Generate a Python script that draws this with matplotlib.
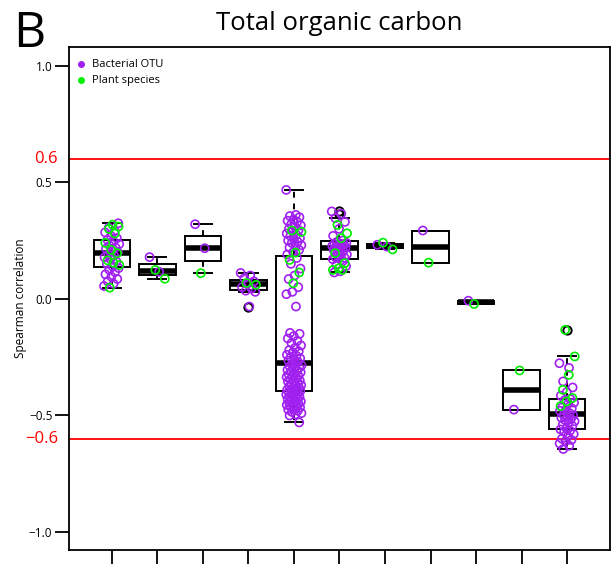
import numpy as np
import matplotlib
matplotlib.use("Agg")
import matplotlib.pyplot as plt
from matplotlib.lines import Line2D

plt.rcParams['font.family'] = ['Open Sans', 'DejaVu Sans']

# Spearman correlations with total organic carbon, one group per box
bact = [
    [0.055, 0.065, 0.075, 0.085, 0.095, 0.105, 0.115, 0.125, 0.132, 0.138,
     0.15, 0.16, 0.17, 0.178, 0.185, 0.19, 0.20, 0.205, 0.215, 0.22, 0.228,
     0.235, 0.247, 0.253, 0.26, 0.27, 0.285, 0.29, 0.305, 0.324],
    [0.179, 0.116],
    [0.32, 0.217],
    [0.111, 0.10, 0.089, 0.075, 0.067, 0.05, 0.044, 0.035, 0.03, -0.033],
    [0.467, 0.36, 0.355, 0.35, 0.34, 0.335, 0.33, 0.32, 0.315, 0.31, 0.30,
     0.295, 0.29, 0.28, 0.275, 0.27, 0.26, 0.255, 0.25, 0.245, 0.24, 0.23,
     0.225, 0.22, 0.21, 0.20, 0.19,
     0.175, 0.15, 0.13, 0.10, 0.085, 0.05, 0.03, 0.02, -0.033, -0.146, -0.15,
     -0.16, -0.17, -0.18, -0.19, -0.20, -0.21, -0.22, -0.225, -0.23, -0.24,
     -0.245, -0.25, -0.255, -0.26, -0.265, -0.27,
     -0.28, -0.285, -0.29, -0.29, -0.295, -0.30, -0.305, -0.31, -0.31, -0.315,
     -0.32, -0.325, -0.33, -0.33, -0.335, -0.34, -0.345, -0.35, -0.35, -0.355,
     -0.36, -0.365, -0.37, -0.37, -0.375, -0.38, -0.385, -0.39, -0.39, -0.392,
     -0.395, -0.40, -0.40, -0.405, -0.41, -0.41, -0.415, -0.42, -0.42, -0.425,
     -0.43, -0.43, -0.435, -0.44, -0.44, -0.445, -0.45, -0.45, -0.455, -0.46,
     -0.46, -0.465, -0.47, -0.475, -0.48, -0.485, -0.49, -0.495, -0.50, -0.53],
    [0.375, 0.365, 0.346, 0.33, 0.30, 0.27, 0.25, 0.244, 0.24, 0.237, 0.235,
     0.232, 0.23, 0.227, 0.225, 0.222, 0.219, 0.215, 0.21, 0.205, 0.20, 0.19,
     0.185, 0.18, 0.176, 0.174, 0.17, 0.16, 0.145, 0.14, 0.118, 0.113],
    [0.232, 0.224],
    [0.293],
    [-0.008],
    [-0.475],
    [-0.276, -0.296, -0.354, -0.38, -0.40, -0.415, -0.43, -0.435, -0.445,
     -0.45, -0.465, -0.47, -0.475, -0.48, -0.49, -0.498, -0.50, -0.505, -0.51,
     -0.515, -0.52, -0.525, -0.53, -0.54, -0.545, -0.555, -0.56, -0.565, -0.57,
     -0.58, -0.59, -0.60, -0.605, -0.61, -0.62, -0.63, -0.644],
]
plant = [
    [0.048, 0.145, 0.155, 0.165, 0.196, 0.21, 0.24, 0.28, 0.30, 0.31, 0.318],
    [0.124, 0.086],
    [0.11],
    [0.068, 0.06],
    [0.293, 0.287, 0.198, 0.167, 0.113, 0.067],
    [0.317, 0.281, 0.26, 0.196, 0.153, 0.131, 0.124, 0.124],
    [0.241, 0.212],
    [0.155],
    [-0.022],
    [-0.307],
    [-0.133, -0.247, -0.326, -0.39, -0.425, -0.44, -0.46],
]
thresholds = [0.6, -0.6]
yticks = [-1.0, -0.5, 0.0, 0.5, 1.0]
yticklabels = ["\u22121.0", "\u22120.5", "0.0", "0.5", "1.0"]

PURPLE = "#A020F0"
GREEN = "#00EE00"


def r_box_stats(values):
    # same five numbers and 1.5*IQR whiskers as R's boxplot()
    x = np.sort(np.asarray(values, dtype=float))
    n = len(x)
    n4 = np.floor((n + 3) / 2) / 2
    idx = np.array([1, n4, (n + 1) / 2, n + 1 - n4, n]) - 1
    f = 0.5 * (x[np.floor(idx).astype(int)] + x[np.ceil(idx).astype(int)])
    iqr = f[3] - f[1]
    lo, hi = f[1] - 1.5 * iqr, f[3] + 1.5 * iqr
    inside = x[(x >= lo) & (x <= hi)]
    return dict(med=f[2], q1=f[1], q3=f[3], whislo=inside.min(),
                whishi=inside.max(), fliers=x[(x < lo) | (x > hi)])


def jitter(n, amp=0.17, phase=0.0):
    k = np.arange(n)
    return ((k * 0.618034 + phase) % 1.0 - 0.5) * 2 * amp


fig = plt.figure(figsize=(6.12, 5.64), dpi=100)
ax = fig.add_axes([0.1127, 0.0248, 0.8840, 0.8919])

positions = np.arange(1, len(bact) + 1)
stats = [r_box_stats(b + p) for b, p in zip(bact, plant)]

for y in thresholds:
    ax.axhline(y, color="red", lw=1.3, zorder=1)

ax.bxp(stats, positions=positions, widths=0.8, capwidths=0.4,
       patch_artist=True,
       boxprops=dict(facecolor="none", edgecolor="black", linewidth=1.4),
       medianprops=dict(color="black", linewidth=4, solid_capstyle="butt"),
       whiskerprops=dict(color="black", linewidth=1.4, linestyle=(0, (3, 3))),
       capprops=dict(color="black", linewidth=1.4),
       flierprops=dict(marker="o", markerfacecolor="none",
                       markeredgecolor="black", markersize=6,
                       markeredgewidth=1.4),
       zorder=2)

for pos, b, p in zip(positions, bact, plant):
    ax.scatter(pos + jitter(len(b)), b, s=34, facecolors="none",
               edgecolors=PURPLE, linewidths=1.2, zorder=3)
    ax.scatter(pos + jitter(len(p), phase=0.37), p, s=34, facecolors="none",
               edgecolors=GREEN, linewidths=1.2, zorder=4)

ax.set_xlim(0.06, 11.94)
ax.set_ylim(-1.077, 1.08)
ax.set_xticks(positions)
ax.set_xticklabels([])
ax.set_yticks(yticks)
ax.set_yticklabels(yticklabels, fontsize=8.5)
ax.tick_params(axis="both", length=10, width=1.3, direction="out", pad=2)
for side in ax.spines.values():
    side.set_linewidth(1.3)

for y in thresholds:
    ax.text(-0.02, y, f"{y:.1f}".replace("-", "\u2212"), color="red",
            fontsize=12, ha="right", va="center",
            transform=ax.get_yaxis_transform())

ax.set_ylabel("Spearman correlation", fontsize=8.5, labelpad=1)

handles = [Line2D([], [], marker="o", ls="", color=PURPLE, markersize=4,
                  label="Bacterial OTU"),
           Line2D([], [], marker="o", ls="", color=GREEN, markersize=4,
                  label="Plant species")]
ax.legend(handles=handles, loc="upper left", frameon=False, fontsize=8,
          handlelength=0.8, handletextpad=0.6, labelspacing=0.45,
          borderaxespad=0.5, bbox_to_anchor=(-0.005, 0.995))

fig.text(0.554, 0.958, "Total organic carbon", fontsize=18.5,
         ha="center", va="center")
fig.text(0.047, 0.94, "B", fontsize=36, ha="center", va="center")

fig.savefig("out.png", dpi=100)
